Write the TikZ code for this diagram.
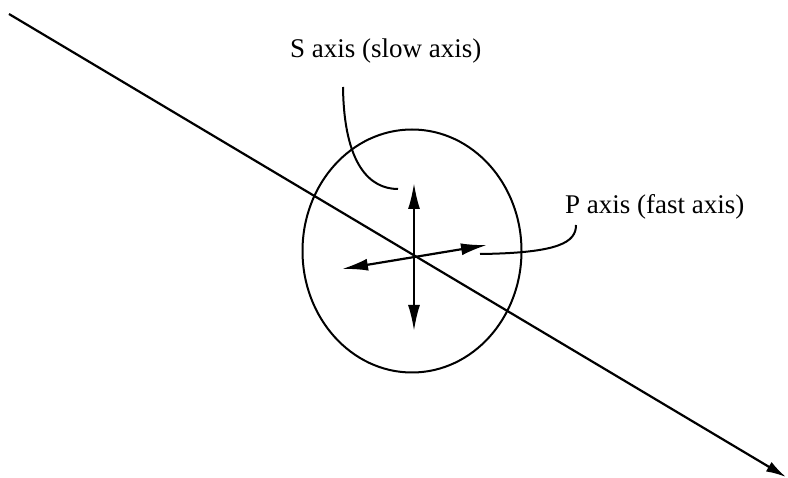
\documentclass[tikz,border=0pt]{standalone}
\usepackage{fontspec}
\setmainfont{Liberation Serif}
\usetikzlibrary{arrows.meta,calc}
\tikzset{
 axislabel/.style={anchor=base west, inner sep=0pt, font=\fontsize{27}{32}\selectfont},
 beam/.style={line width=2.2pt, -{Latex[length=20pt,width=11pt]}},
 twohead/.style={line width=2.2pt, {Latex[length=26pt,width=12pt]}-{Latex[length=26pt,width=12pt]}},
 leader/.style={line width=2pt},
 crystal/.style={line width=2pt}
}
\begin{document}
\begin{tikzpicture}[x=1pt,y=-1pt]
\useasboundingbox (0,0) rectangle (788,478);
% light path
\coordinate (beamin) at (9,14);
\coordinate (beamout) at (786,477);
\draw[beam] (beamin) -- (beamout);
% crystal cross section
\coordinate (centre) at (412,251);
\draw[crystal] (centre) ellipse [x radius=109.5, y radius=121.5];
% the two axes
\coordinate (stop) at (414,183);
\coordinate (sbot) at (414,331);
\coordinate (pleft) at (342,269);
\coordinate (pright) at (487,245);
\draw[twohead] (stop) -- (sbot);
\draw[twohead] (pleft) -- (pright);
% labels
\node[axislabel] (slow) at (290,58) {S axis (slow axis)};
\node[axislabel] (fast) at (565,214) {P axis (fast axis)};
\coordinate (sfrom) at (343,87);
\coordinate (sto) at (398,189);
\coordinate (pfrom) at (576,225);
\coordinate (pto) at (480,254);
\draw[leader] (sfrom) .. controls (344,165) and (370,189) .. (sto);
\draw[leader] (pfrom) .. controls (576,242) and (560,253) .. (pto);
\end{tikzpicture}
\end{document}
